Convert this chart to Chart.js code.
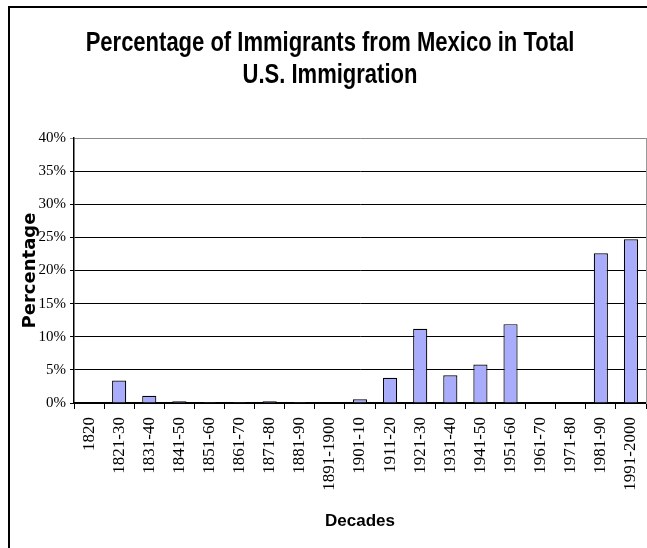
<!DOCTYPE html>
<html lang="en">
<head>
    <meta charset="UTF-8">
    <title>Mexican Immigration Share</title>
    <script src="https://cdn.jsdelivr.net/npm/chart.js@4.4.0/dist/chart.umd.min.js"></script>
    <style>
        body { margin: 0; background: #fff; overflow: hidden; }
        /* frame of the chart, runs off the right and bottom edges */
        #frame { position: absolute; left: 8px; top: 6px; width: 700px; height: 600px; border: 2px solid #000; }
        #wrap { position: absolute; left: 0; top: 0; width: 647px; height: 548px; }
    </style>
</head>
<body>
    <div id="frame"></div>
    <div id="wrap"><canvas id="chart" width="647" height="548"></canvas></div>

    <script>
        // decades on the x axis
        const decades = ['1820', '1821-30', '1831-40', '1841-50', '1851-60', '1861-70', '1871-80',
            '1881-90', '1891-1900', '1901-10', '1911-20', '1921-30', '1931-40', '1941-50',
            '1951-60', '1961-70', '1971-80', '1981-90', '1991-2000'];
        // share of Mexican immigrants in total U.S. immigration, percent
        const mexicoShare = [0, 3.4, 1.1, 0.25, 0.15, 0.15, 0.25, 0.15, 0, 0.55, 3.8, 11.2,
            4.2, 5.8, 11.9, null, null, 22.6, 24.7];
        // y ticks
        const yMax = 40;
        const yStep = 5;
        const titleLines = ['Percentage of Immigrants from Mexico in Total', 'U.S. Immigration'];

        const serif = "'Liberation Serif', 'DejaVu Serif', serif";

        // the original title is set in a narrow face, so squeeze Liberation Sans a bit
        const narrowTitle = {
            id: 'narrowTitle',
            afterDraw(chart) {
                const c = chart.ctx;
                c.save();
                c.font = "bold 27px 'Liberation Sans', Arial, sans-serif";
                c.fillStyle = '#000';
                c.textAlign = 'center';
                c.textBaseline = 'alphabetic';
                c.translate(330, 0);
                c.scale(0.815, 1);
                c.fillText(titleLines[0], 0, 51);
                c.fillText(titleLines[1], 0, 83);
                c.restore();
            }
        };

        const ctx = document.getElementById('chart').getContext('2d');

        const myChart = new Chart(ctx, {
            type: 'bar',
            data: {
                labels: decades,
                datasets: [{
                    label: 'Mexico',
                    data: mexicoShare,
                    backgroundColor: '#a9abfb',
                    borderColor: '#000',
                    borderWidth: 1.2,
                    barPercentage: 0.47,
                    categoryPercentage: 1
                }]
            },
            plugins: [narrowTitle],
            options: {
                responsive: false,
                animation: false,
                layout: { padding: { left: 20, right: 0, top: 138, bottom: 0 } },
                plugins: {
                    legend: { display: false },
                    tooltip: { enabled: false },
                    title: { display: false }
                },
                scales: {
                    x: {
                        afterFit: (scale) => {
                            scale.height = 145;
                            scale.paddingLeft = 0;
                            scale.paddingRight = 0;
                        },
                        grid: {
                            offset: true,
                            drawOnChartArea: false,
                            drawTicks: true,
                            tickLength: 6,
                            color: '#000'
                        },
                        border: { display: true, color: '#000', width: 1.5 },
                        ticks: {
                            color: '#000',
                            minRotation: 90,
                            maxRotation: 90,
                            autoSkip: false,
                            padding: 8,
                            font: { family: serif, size: 17 }
                        },
                        title: {
                            display: true,
                            text: 'Decades',
                            color: '#000',
                            font: { family: "'Liberation Sans', sans-serif", size: 17, weight: 'bold' },
                            padding: { top: 4, bottom: 16 }
                        }
                    },
                    y: {
                        min: 0,
                        max: yMax,
                        afterFit: (scale) => {
                            scale.width = 54;
                            scale.paddingTop = 0;
                            scale.paddingBottom = 0;
                        },
                        grid: {
                            color: (c) => c.tick && c.tick.value === yMax ? '#888' : '#000',
                            tickLength: 4,
                            drawTicks: true
                        },
                        border: { display: true, color: '#000', width: 1.5 },
                        ticks: {
                            stepSize: yStep,
                            color: '#000',
                            padding: 4,
                            font: { family: serif, size: 15 },
                            callback: (v) => v + '%'
                        },
                        title: {
                            display: true,
                            text: 'Percentage',
                            color: '#000',
                            font: { family: "'DejaVu Sans', sans-serif", size: 18, weight: 'bold' },
                            padding: { top: 0, bottom: 0 }
                        }
                    },
                    // gray right edge of the plot area
                    yRight: {
                        position: 'right',
                        min: 0,
                        max: yMax,
                        afterFit: (scale) => {
                            scale.width = 1;
                            scale.paddingTop = 0;
                            scale.paddingBottom = 0;
                        },
                        grid: { drawOnChartArea: false, drawTicks: false },
                        border: { display: true, color: '#999' },
                        ticks: { display: false }
                    }
                }
            }
        });
    </script>
</body>
</html>
